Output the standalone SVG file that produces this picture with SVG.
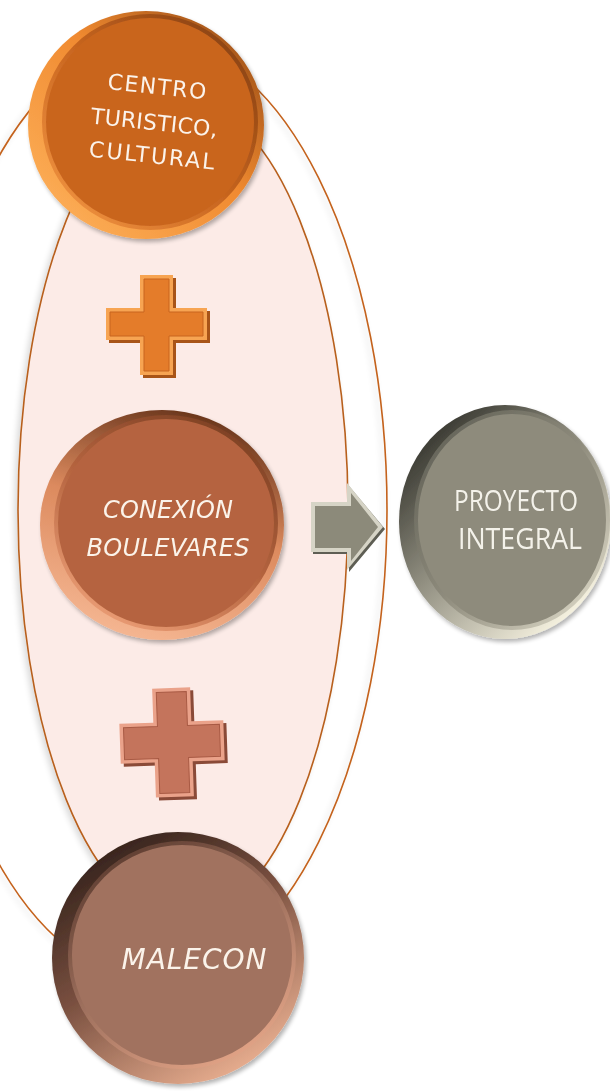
<svg xmlns="http://www.w3.org/2000/svg" width="610" height="1091" viewBox="0 0 610 1091">
<defs>
<style>
.hand{font-family:"DejaVu Sans","Open Sans",sans-serif;fill:#fbf3ea;text-anchor:middle}
.ital{font-style:italic}
.calib{font-family:"Open Sans","Liberation Sans",sans-serif;fill:#f4f2ea;text-anchor:middle;font-size:30px}
</style>
<filter id="soft" x="-10%" y="-10%" width="120%" height="120%">
<feGaussianBlur in="SourceAlpha" stdDeviation="3"/>
<feOffset dx="-3" dy="2"/>
<feComponentTransfer><feFuncA type="linear" slope="0.15"/></feComponentTransfer>
<feMerge><feMergeNode/><feMergeNode in="SourceGraphic"/></feMerge>
</filter>
<filter id="coinsh" x="-10%" y="-10%" width="125%" height="125%">
<feGaussianBlur in="SourceAlpha" stdDeviation="2"/>
<feOffset dx="2" dy="3"/>
<feComponentTransfer><feFuncA type="linear" slope="0.3"/></feComponentTransfer>
<feMerge><feMergeNode/><feMergeNode in="SourceGraphic"/></feMerge>
</filter>
<linearGradient id="rimO" x1="0" y1="1" x2="1" y2="0">
<stop offset="0" stop-color="#ffb660"/><stop offset="0.55" stop-color="#f08a30"/><stop offset="1" stop-color="#8a4212"/>
</linearGradient>
<linearGradient id="edgeO" x1="0" y1="1" x2="1" y2="0">
<stop offset="0" stop-color="#f79a45"/><stop offset="0.5" stop-color="#c8651f"/><stop offset="1" stop-color="#7a3a10"/>
</linearGradient>
<linearGradient id="rimB" x1="0.3" y1="1" x2="0.6" y2="0">
<stop offset="0" stop-color="#f6b894"/><stop offset="0.55" stop-color="#dc8a5e"/><stop offset="1" stop-color="#6a361c"/>
</linearGradient>
<linearGradient id="edgeB" x1="0.2" y1="1" x2="0.8" y2="0">
<stop offset="0" stop-color="#eea078"/><stop offset="0.5" stop-color="#b5643f"/><stop offset="1" stop-color="#7a3e22"/>
</linearGradient>
<linearGradient id="rimG" x1="0" y1="0.2" x2="0.7" y2="1">
<stop offset="0" stop-color="#33332c"/><stop offset="0.45" stop-color="#8e8c7e"/><stop offset="1" stop-color="#f6f2e0"/>
</linearGradient>
<linearGradient id="edgeG" x1="0" y1="0" x2="1" y2="1">
<stop offset="0" stop-color="#5a5a50"/><stop offset="0.5" stop-color="#8e8b7c"/><stop offset="1" stop-color="#e8e4d2"/>
</linearGradient>
<linearGradient id="rimM" x1="0.2" y1="0" x2="0.8" y2="1">
<stop offset="0" stop-color="#2e1e18"/><stop offset="0.45" stop-color="#7a5040"/><stop offset="1" stop-color="#f4b898"/>
</linearGradient>
<linearGradient id="edgeM" x1="0.2" y1="0" x2="0.8" y2="1">
<stop offset="0" stop-color="#5a3a2e"/><stop offset="0.5" stop-color="#a1725f"/><stop offset="1" stop-color="#e8a88a"/>
</linearGradient>
</defs>

<g id="connectors">
<ellipse cx="153" cy="510" rx="234" ry="470" fill="none" stroke="#c4621c" stroke-width="1.6" filter="url(#soft)"/>
<ellipse id="group-ellipse" cx="183" cy="510" rx="165" ry="410" fill="#fcebe7" stroke="#b8601e" stroke-width="1.6" filter="url(#soft)"/>
</g>

<g id="node-centro" filter="url(#coinsh)">
<ellipse cx="146" cy="125" rx="118" ry="114" fill="url(#rimO)"/>
<ellipse cx="150" cy="122" rx="106" ry="106" fill="#c9651f" stroke="url(#edgeO)" stroke-width="4"/>
<g transform="rotate(6 153 125)">
<text class="hand" x="153" y="94" font-size="22" textLength="99" lengthAdjust="spacing">CENTRO</text>
<text class="hand" x="154" y="130" font-size="22" textLength="127" lengthAdjust="spacing">TURISTICO,</text>
<text class="hand" x="155" y="163" font-size="22" textLength="126" lengthAdjust="spacing">CULTURAL</text>
</g>
</g>

<g id="plus-1">
<path d="M143,278 h33 v33 h34 v32 h-34 v35 h-33 v-35 h-34 v-32 h34 z" fill="#a85418"/>
<path d="M140,275 h33 v33 h34 v32 h-34 v35 h-33 v-35 h-34 v-32 h34 z" fill="#f7a452"/>
<path d="M144,279 h25 v33 h34 v24 h-34 v35 h-25 v-35 h-34 v-24 h34 z" fill="#e47c2a" stroke="#c8641e" stroke-width="1"/>
</g>

<g id="node-conexion" filter="url(#coinsh)">
<ellipse cx="162" cy="525" rx="122" ry="115" fill="url(#rimB)"/>
<ellipse cx="166" cy="523" rx="110" ry="106" fill="#b5643f" stroke="url(#edgeB)" stroke-width="4"/>
<text class="hand ital" x="168" y="518" font-size="24" textLength="130" lengthAdjust="spacing">CONEXIÓN</text>
<text class="hand ital" x="168" y="556" font-size="24" textLength="163" lengthAdjust="spacing">BOULEVARES</text>
</g>

<g id="arrow">
<path d="M313,505 h36 v-19 l36,43 l-36,43 v-18 h-36 z" fill="#5e5e54"/>
<path d="M311,502 h36 v-19 l36,44 l-36,43 v-18 h-36 z" fill="#d6d4c6"/>
<path d="M315,506 h36 v-13 l27,34 l-27,34 v-13 h-36 z" fill="#8c8a7a"/>
</g>

<g id="node-proyecto" filter="url(#coinsh)">
<ellipse cx="505" cy="522" rx="106" ry="117" fill="url(#rimG)"/>
<ellipse cx="512" cy="520" rx="96" ry="108" fill="#8e8b7c" stroke="url(#edgeG)" stroke-width="4"/>
<text class="calib" x="516" y="511" textLength="124" lengthAdjust="spacingAndGlyphs">PROYECTO</text>
<text class="calib" x="520" y="549" textLength="124" lengthAdjust="spacingAndGlyphs">INTEGRAL</text>
</g>

<g id="plus-2" transform="rotate(-2 172 742)">
<path d="M157,691 h38 v34 h32 v40 h-32 v35 h-38 v-35 h-34 v-40 h34 z" fill="#8a4a38"/>
<path d="M154,688 h38 v34 h32 v40 h-32 v35 h-38 v-35 h-34 v-40 h34 z" fill="#eaa28a"/>
<path d="M158,692 h30 v34 h32 v32 h-32 v35 h-30 v-35 h-34 v-32 h34 z" fill="#c4745c" stroke="#a85a44" stroke-width="1"/>
</g>

<g id="node-malecon" filter="url(#coinsh)">
<ellipse cx="178" cy="958" rx="126" ry="126" fill="url(#rimM)"/>
<ellipse cx="182" cy="955" rx="112" ry="112" fill="#a1725f" stroke="url(#edgeM)" stroke-width="4"/>
<text class="hand ital" x="194" y="969" font-size="28" textLength="145" lengthAdjust="spacing">MALECON</text>
</g>
</svg>
